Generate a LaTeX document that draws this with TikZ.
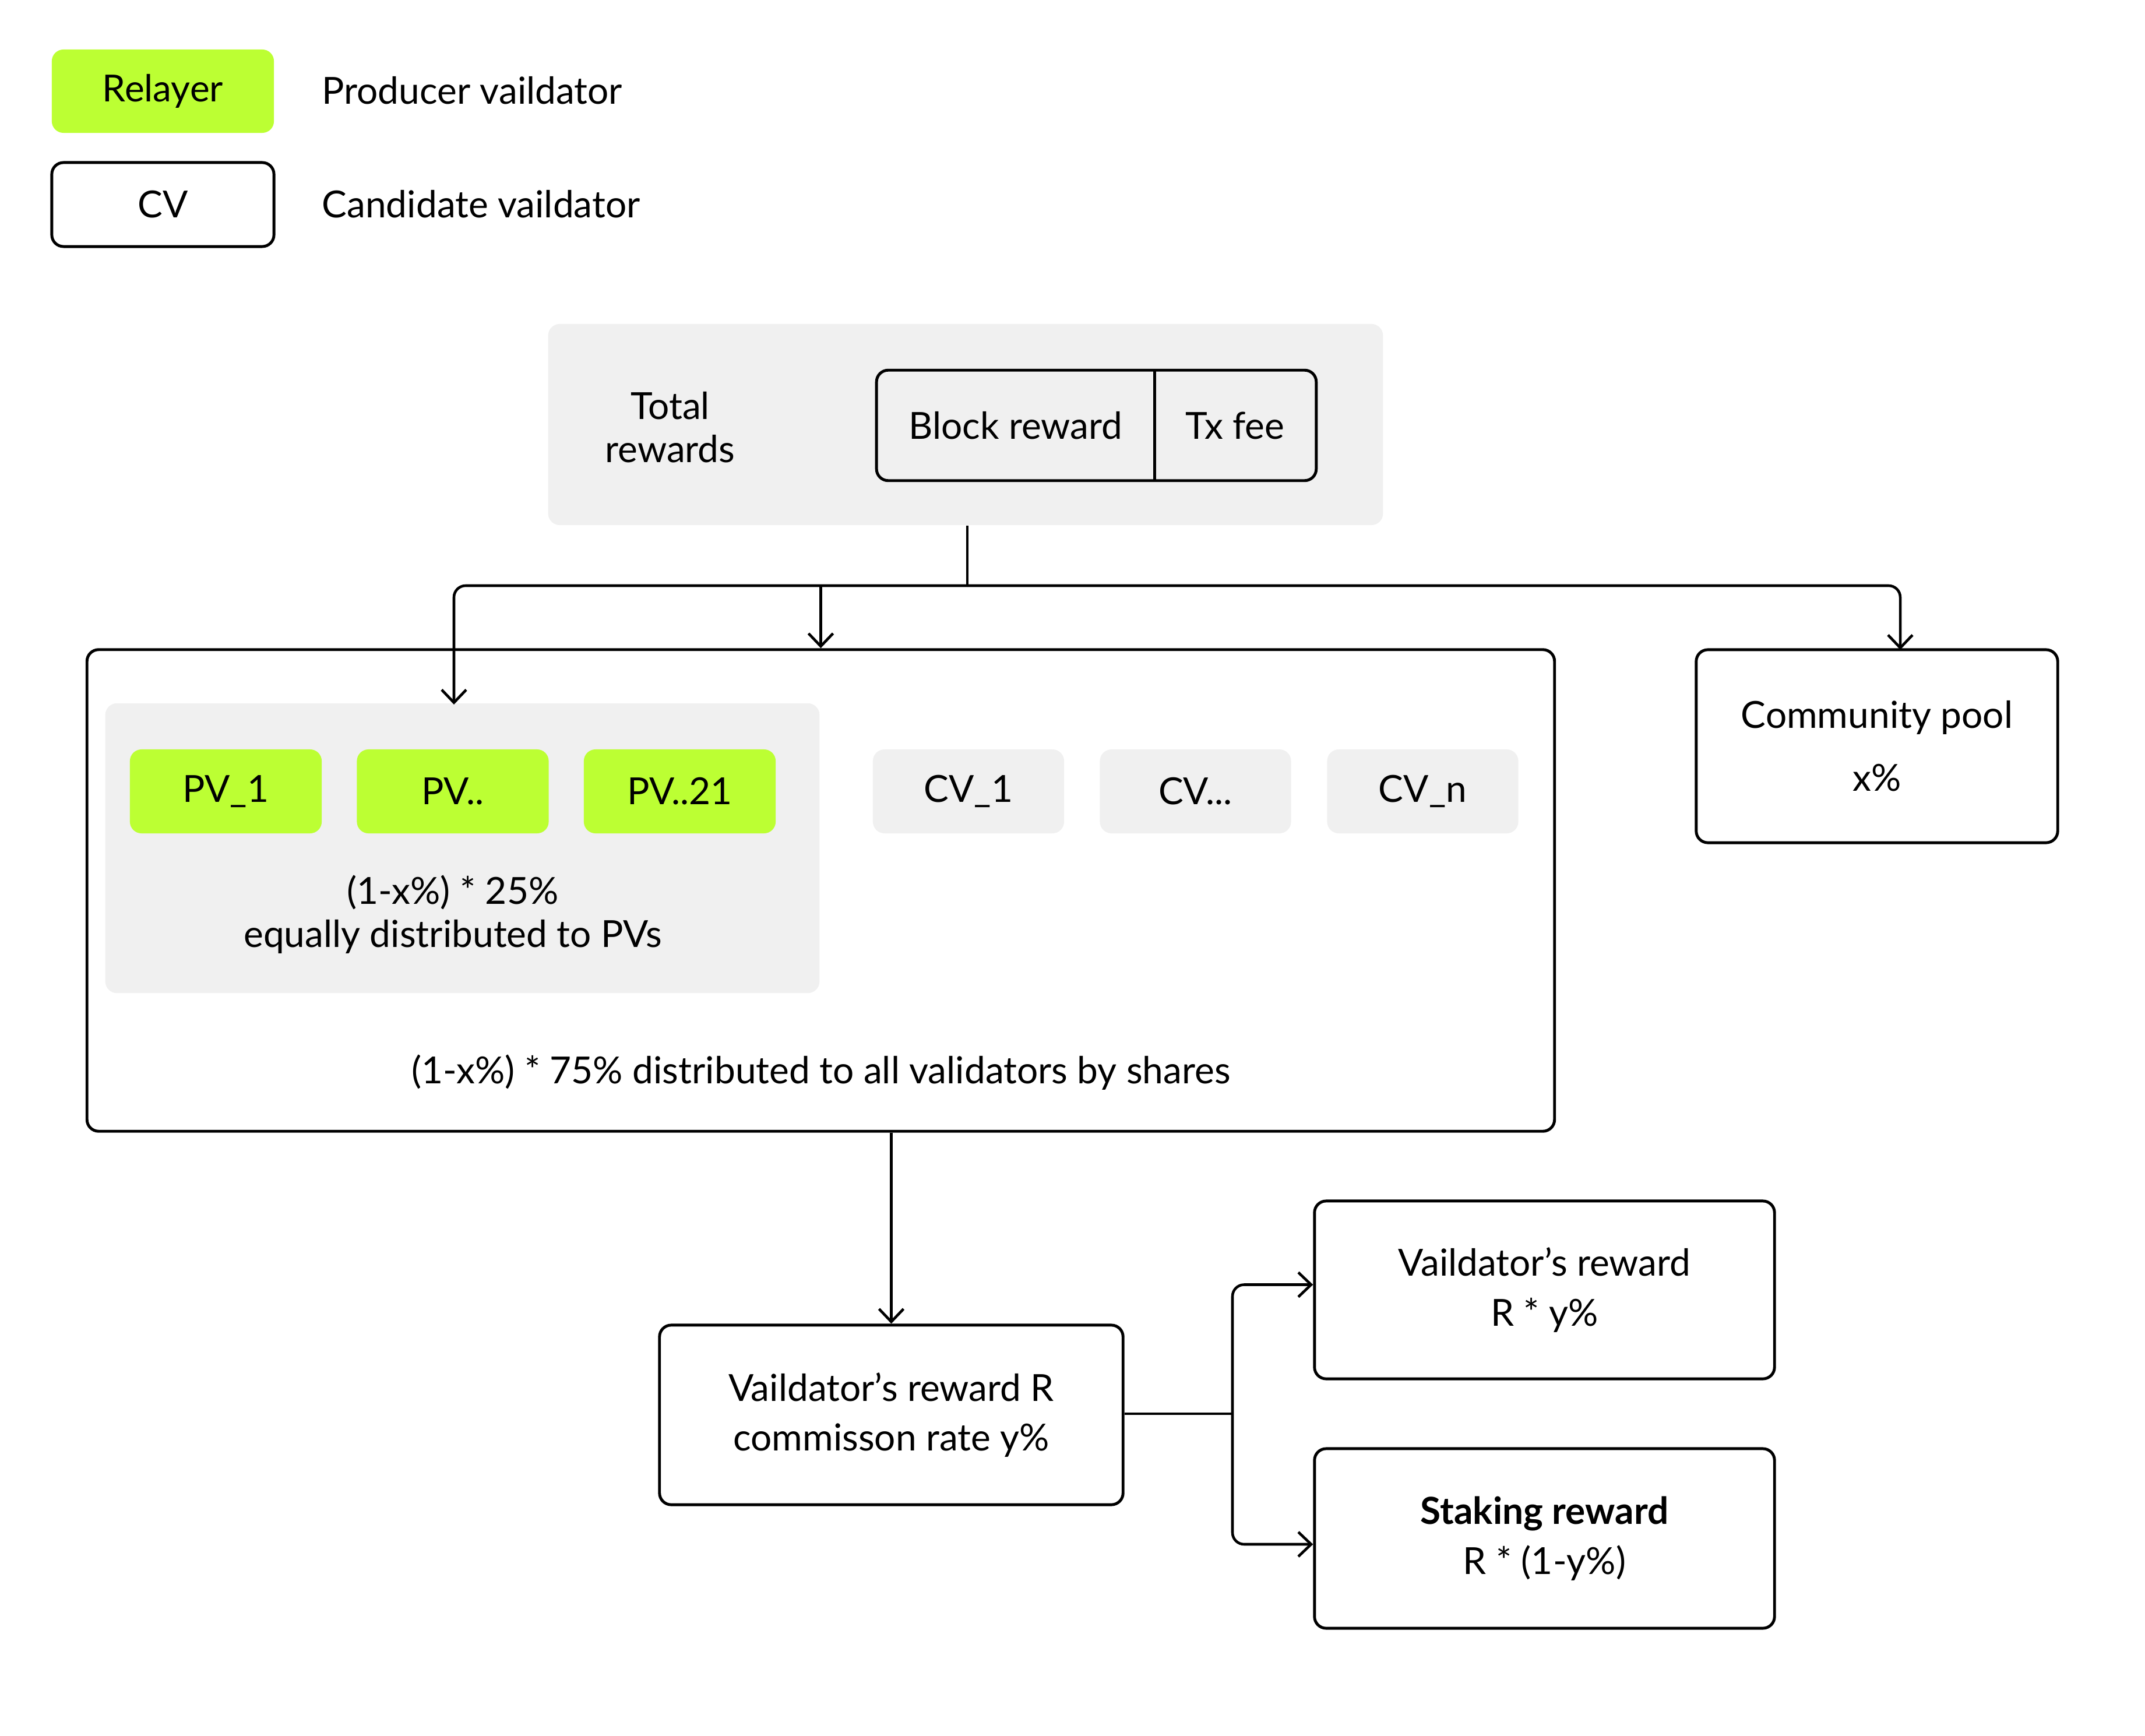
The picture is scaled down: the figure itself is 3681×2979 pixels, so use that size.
\documentclass[tikz,border=0pt]{standalone}
\usepackage{fontspec}
\setmainfont{Lato}
\usetikzlibrary{arrows.meta,positioning,calc}
\definecolor{pvgreen}{RGB}{188,255,51}
\definecolor{panelgray}{RGB}{240,240,240}
\tikzset{
  txt/.style={font=\fontsize{18.2}{21}\selectfont, align=center, inner sep=0pt},
  greenbox/.style={txt, fill=pvgreen, rounded corners=0.2cm},
  graybox/.style={txt, fill=panelgray, rounded corners=0.2cm},
  outbox/.style={txt, draw=black, line width=1.4pt, rounded corners=0.2cm},
  conn/.style={line width=1.3pt},
  arr/.style={conn, -{Straight Barb[length=0.22cm, width=0.42cm, line width=1.3pt]}},
}
\begin{document}
\begin{tikzpicture}[x=0.01cm, y=-0.01cm]
\useasboundingbox (0,0) rectangle (3681,2979);

% legend
\node[greenbox, minimum width=3.81cm, minimum height=1.43cm] (relayer) at (279.5,156.5) {Relayer};
\node[outbox, minimum width=3.81cm, minimum height=1.44cm] (cvleg) at (279.5,351) {CV};
\node[txt, anchor=west] (prodtxt) at (552,155) {Producer vaildator};
\node[txt, anchor=west] (candtxt) at (552,350) {Candidate vaildator};

% total rewards panel
\node[graybox, minimum width=14.32cm, minimum height=3.45cm] (total) at (1657,728.5) {};
\node[txt] (totaltxt) at (1150,733) {Total\\rewards};
\node[txt, minimum width=4.76cm, minimum height=1.88cm] (blk) at (1743,730) {Block reward};
\node[txt, minimum width=2.77cm, minimum height=1.88cm] (fee) at (2119.5,730) {Tx fee};
\draw[line width=1.4pt, rounded corners=0.2cm] (blk.north west) rectangle (fee.south east);
\draw[line width=1.4pt] (blk.north east) -- (blk.south east);

% big validators box
\node[outbox, minimum width=25.17cm, minimum height=8.26cm] (big) at (1408.5,1528) {};
\node[graybox, minimum width=12.25cm, minimum height=4.97cm] (pvgroup) at (793.5,1455.5) {};
\node[greenbox, minimum width=3.29cm, minimum height=1.44cm] (pv1) at (387.5,1358) {PV\_1};
\node[greenbox, minimum width=3.29cm, minimum height=1.44cm] (pv2) at (777,1358) {PV..};
\node[greenbox, minimum width=3.29cm, minimum height=1.44cm] (pv3) at (1166.5,1358) {PV..21};
\node[graybox, minimum width=3.28cm, minimum height=1.44cm] (cv1) at (1662,1358) {CV\_1};
\node[graybox, minimum width=3.28cm, minimum height=1.44cm] (cv2) at (2051.5,1358) {CV...};
\node[graybox, minimum width=3.28cm, minimum height=1.44cm] (cv3) at (2441.5,1358) {CV\_n};
\node[txt] (pvtxt) at (777,1569) {(1-x\%) * 25\%\\equally distributed to PVs};
\node[txt] (bigtxt) at (1409,1840) {(1-x\%) * 75\% distributed to all validators by shares};

% community pool
\node[outbox, minimum width=6.20cm, minimum height=3.31cm] (pool) at (3221,1280.5) {Community pool\\[0.34cm]x\%};

% lower boxes
\node[outbox, minimum width=7.95cm, minimum height=3.08cm] (valR) at (1529.5,2428) {Vaildator’s reward R\\[0.12cm]commisson rate y\%};
\node[outbox, minimum width=7.89cm, minimum height=3.05cm] (vr) at (2650.5,2213.5) {Vaildator’s reward\\[0.12cm]R * y\%};
\node[outbox, minimum width=7.89cm, minimum height=3.08cm] (sr) at (2650.5,2640) {\textbf{Staking reward}\\[0.12cm]R * (1-y\%)};

% connectors
\coordinate (split) at (1660,1005);
\coordinate (pvin) at (779,1209);
\coordinate (poolin) at (3261,1115);
\coordinate (jn) at (2115,2426);
\draw[conn] (total.south -| split) -- (split);
\draw[arr, rounded corners=0.2cm] (split) -| (pvin);
\draw[arr, rounded corners=0.2cm] (split) -| (poolin);
\draw[arr] (split -| big.north) -- (big.north);
\draw[arr] (valR.north |- big.south) -- (valR.north);
\draw[conn] (valR.east |- jn) -- (jn);
\draw[arr, rounded corners=0.2cm] (jn) |- ($(vr.west)+(0,-9)$);
\draw[arr, rounded corners=0.2cm] (jn) |- ($(sr.west)+(0,10)$);
\end{tikzpicture}
\end{document}
